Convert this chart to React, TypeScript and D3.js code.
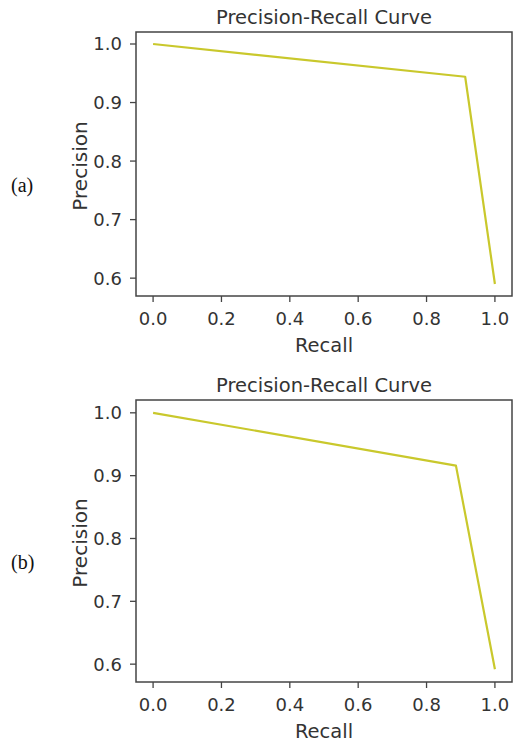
import React, { useRef, useEffect } from "react";
import * as d3 from "d3";

// Panel (a)
const recallA = [0.0, 0.913, 1.0];
const precisionA = [1.0, 0.944, 0.59];
// Panel (b)
const recallB = [0.0, 0.886, 1.0];
const precisionB = [1.0, 0.916, 0.592];

const xTicks = [0.0, 0.2, 0.4, 0.6, 0.8, 1.0];
const yTicks = [0.6, 0.7, 0.8, 0.9, 1.0];
const panelLabels = ["(a)", "(b)"];
const title = "Precision-Recall Curve";
const xLabel = "Recall";
const yLabel = "Precision";

const W = 516;
const H = 744;
const FONT = "DejaVu Sans, sans-serif";

function App() {
  const ref = useRef<SVGSVGElement>(null);

  useEffect(() => {
    const svg = d3.select(ref.current);
    svg.selectAll("*").remove();

    const panels = [
      { recall: recallA, precision: precisionA, top: 32, bottom: 296 },
      { recall: recallB, precision: precisionB, top: 400, bottom: 682 },
    ];
    const left = 136,
      right = 512;

    panels.forEach((p, i) => {
      const g = svg.append("g");

      // matplotlib style 5% margins
      const [x0, x1] = d3.extent(p.recall) as [number, number];
      const [y0, y1] = d3.extent(p.precision) as [number, number];
      const xm = (x1 - x0) * 0.05,
        ym = (y1 - y0) * 0.05;
      const x = d3.scaleLinear().domain([x0 - xm, x1 + xm]).range([left, right]);
      const y = d3.scaleLinear().domain([y0 - ym, y1 + ym]).range([p.bottom, p.top]);

      const pts = p.recall.map((r, k) => [r, p.precision[k]] as [number, number]);
      const lineGen = d3
        .line<[number, number]>()
        .x((d) => x(d[0]))
        .y((d) => y(d[1]));

      g.append("path")
        .datum(pts)
        .attr("d", lineGen)
        .attr("fill", "none")
        .attr("stroke", "#c9c82c")
        .attr("stroke-width", 2.2)
        .attr("stroke-linejoin", "round");

      // frame
      g.append("rect")
        .attr("x", left)
        .attr("y", p.top)
        .attr("width", right - left)
        .attr("height", p.bottom - p.top)
        .attr("fill", "none")
        .attr("stroke", "#444")
        .attr("stroke-width", 1.5);

      // x ticks
      xTicks.forEach((t) => {
        g.append("line")
          .attr("x1", x(t))
          .attr("x2", x(t))
          .attr("y1", p.bottom)
          .attr("y2", p.bottom + 6)
          .attr("stroke", "#444")
          .attr("stroke-width", 1.3);
        g.append("text")
          .attr("x", x(t))
          .attr("y", p.bottom + 29)
          .attr("text-anchor", "middle")
          .style("font-family", FONT)
          .style("font-size", "18px")
          .attr("fill", "#333")
          .text(d3.format(".1f")(t));
      });

      // y ticks
      yTicks.forEach((t) => {
        g.append("line")
          .attr("x1", left)
          .attr("x2", left - 6)
          .attr("y1", y(t))
          .attr("y2", y(t))
          .attr("stroke", "#444")
          .attr("stroke-width", 1.3);
        g.append("text")
          .attr("x", left - 14)
          .attr("y", y(t))
          .attr("dy", "0.36em")
          .attr("text-anchor", "end")
          .style("font-family", FONT)
          .style("font-size", "18px")
          .attr("fill", "#333")
          .text(d3.format(".1f")(t));
      });

      const cx = (left + right) / 2;
      g.append("text")
        .attr("x", cx)
        .attr("y", p.top - 8)
        .attr("text-anchor", "middle")
        .style("font-family", FONT)
        .style("font-size", "19.5px")
        .attr("fill", "#333")
        .text(title);

      g.append("text")
        .attr("x", cx)
        .attr("y", p.bottom + 56)
        .attr("text-anchor", "middle")
        .style("font-family", FONT)
        .style("font-size", "19.5px")
        .attr("fill", "#333")
        .text(xLabel);

      const cy = (p.top + p.bottom) / 2 + 2;
      g.append("text")
        .attr("transform", `translate(87,${cy}) rotate(-90)`)
        .attr("text-anchor", "middle")
        .style("font-family", FONT)
        .style("font-size", "20px")
        .attr("fill", "#333")
        .text(yLabel);

      g.append("text")
        .attr("x", 11)
        .attr("y", cy + 26)
        .style("font-family", "Liberation Serif, serif")
        .style("font-size", "20px")
        .attr("fill", "#111")
        .text(panelLabels[i]);
    });
  }, []);

  return (
    <svg
      ref={ref}
      width={W}
      height={H}
      style={{ position: "absolute", left: 0, top: 0, background: "#fff" }}
    />
  );
}

export default App;
